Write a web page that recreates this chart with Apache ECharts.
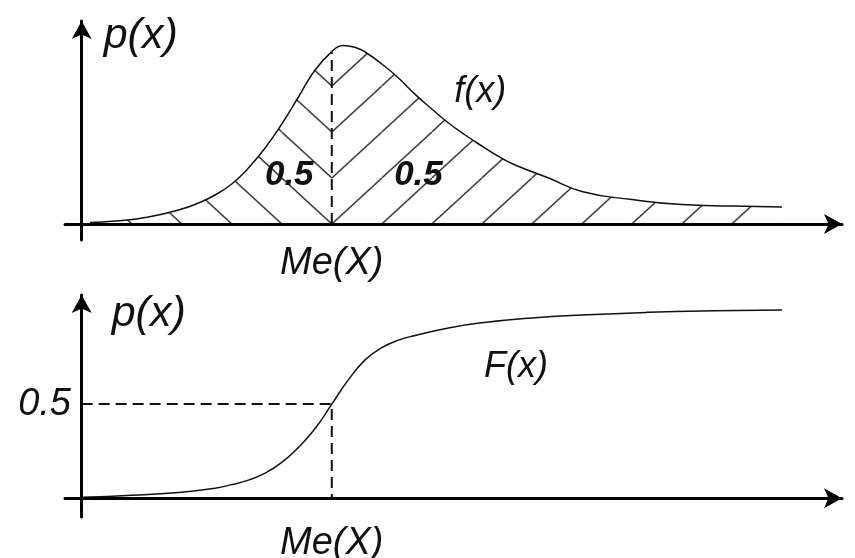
<!DOCTYPE html>
<html>
<head>
<meta charset="utf-8">
<title>Медиана: f(x) и F(x)</title>
<script src="https://cdn.jsdelivr.net/npm/echarts@6/dist/echarts.min.js"></script>
<style>
  html, body { margin: 0; padding: 0; background: #fff; }
  #chart { width: 855px; height: 558px; }
</style>
</head>
<body>
<div id="chart"></div>
<script>
// Median of the distribution
const median = 15;

// Density curve f(x)
const densityX = [0.5, 2, 4, 6, 7, 8, 9, 10, 11, 12, 13, 14, 15, 15.7, 16.5, 17, 18, 19, 20, 21, 22, 23, 24, 25, 26, 28, 30, 33, 36, 39, 42];
const densityY = [0.008, 0.015, 0.035, 0.075, 0.105, 0.145, 0.2, 0.28, 0.38, 0.5, 0.635, 0.77, 0.862, 0.893, 0.88, 0.86, 0.8, 0.73, 0.648, 0.575, 0.505, 0.445, 0.39, 0.338, 0.295, 0.23, 0.163, 0.122, 0.097, 0.09, 0.085];

// Distribution function F(x)
const cdfX = [0.1, 3, 6, 8, 9, 10, 11, 12, 13, 14, 15, 16, 17, 18, 19, 20, 22, 24, 27, 30, 34, 38, 42];
const cdfY = [0.005, 0.016, 0.032, 0.053, 0.072, 0.096, 0.133, 0.19, 0.27, 0.37, 0.5, 0.63, 0.735, 0.8, 0.84, 0.865, 0.905, 0.932, 0.958, 0.974, 0.988, 0.996, 1.0];

// Text
const yName = 'p(x)';
const medianLabel = 'Me(X)';
const halfLabel = '0.5';
const densityName = 'f(x)';
const cdfName = 'F(x)';
const halfLevel = 0.5;

const FONT = "'Liberation Sans', Arial, sans-serif";
const INK = '#111';

const pairs = (xs, ys) => xs.map((x, i) => [x, ys[i]]);
const densityPts = pairs(densityX, densityY);
const leftPart = densityPts.filter(p => p[0] <= median);
const rightPart = densityPts.filter(p => p[0] >= median);
const densityAtMedian = densityY[densityX.indexOf(median)];

// Hatch tile: '\' or '/' diagonal strokes, repeated seamlessly
const TILE_W = 50, TILE_H = 46;
function hatchTile(back) {
  const c = document.createElement('canvas');
  c.width = TILE_W; c.height = TILE_H;
  const g = c.getContext('2d');
  g.strokeStyle = '#222';
  g.lineWidth = 1.3;
  for (let k = -1; k <= 1; k++) {
    g.beginPath();
    if (back) { g.moveTo(k * TILE_W, 0); g.lineTo(k * TILE_W + TILE_W, TILE_H); }
    else { g.moveTo(k * TILE_W, TILE_H); g.lineTo(k * TILE_W + TILE_W, 0); }
    g.stroke();
  }
  return c;
}
const tileBack = hatchTile(true);
const tileFwd = hatchTile(false);

const axisLine = {
  onZero: true,
  symbol: ['none', 'arrow'],
  symbolSize: [15, 18],
  lineStyle: { color: '#000', width: 3 }
};
const labelStyle = { fontFamily: FONT, fontStyle: 'italic', fontSize: 38, color: INK };
const nameStyle = { fontFamily: FONT, fontStyle: 'italic', fontSize: 43, color: INK, align: 'left', verticalAlign: 'middle' };

function xAxisCfg(gridIndex, margin) {
  return {
    type: 'value', gridIndex, min: -1, max: 45.6,
    axisLine, axisTick: { show: false }, splitLine: { show: false },
    axisLabel: Object.assign({ customValues: [median], formatter: () => medianLabel, margin }, labelStyle),
    z: 5
  };
}

const curveSmooth = { smooth: 0.5, showSymbol: false };

const chart = echarts.init(document.getElementById('chart'), null, { renderer: 'canvas' });

const option = {
  animation: false,
  backgroundColor: '#fff',
  grid: [
    { left: 65, right: 13, top: 21, bottom: 318, containLabel: false, outerBoundsMode: 'none' },
    { left: 65, right: 13, top: 295, bottom: 41, containLabel: false, outerBoundsMode: 'none' }
  ],
  xAxis: [xAxisCfg(0, 4), xAxisCfg(1, 7)],
  yAxis: [
    {
      type: 'value', gridIndex: 0, min: -0.08, max: 1.015,
      axisLine, axisTick: { show: false }, splitLine: { show: false },
      axisLabel: { show: false },
      name: yName, nameLocation: 'end', nameGap: -15,
      nameTextStyle: Object.assign({ padding: [0, 0, 0, 22] }, nameStyle),
      z: 5
    },
    {
      type: 'value', gridIndex: 1, min: -0.1, max: 1.08,
      axisLine, axisTick: { show: false }, splitLine: { show: false },
      axisLabel: Object.assign({ customValues: [halfLevel], formatter: () => halfLabel, margin: -6 }, labelStyle),
      name: yName, nameLocation: 'end', nameGap: -19,
      nameTextStyle: Object.assign({ padding: [0, 0, 0, 30] }, nameStyle),
      z: 5
    }
  ],
  series: [
    Object.assign({
      id: 'densityLeft', type: 'line', xAxisIndex: 0, yAxisIndex: 0,
      data: leftPart,
      lineStyle: { color: INK, width: 1.5 },
      areaStyle: { opacity: 1, color: 'transparent' },
      markPoint: {
        symbolSize: 0,
        label: { show: true, position: 'inside', fontFamily: FONT, fontStyle: 'italic', fontWeight: 'bold', fontSize: 35, color: INK },
        data: [{ coord: [12.45, 0.245], value: halfLabel }]
      }
    }, curveSmooth),
    Object.assign({
      id: 'densityRight', type: 'line', xAxisIndex: 0, yAxisIndex: 0,
      data: rightPart,
      lineStyle: { color: INK, width: 1.5 },
      areaStyle: { opacity: 1, color: 'transparent' },
      markPoint: {
        symbolSize: 0,
        label: { show: true, position: 'inside', fontFamily: FONT, fontStyle: 'italic', fontSize: 35, color: INK },
        data: [
          { coord: [20.2, 0.245], value: halfLabel, label: { fontWeight: 'bold' } },
          { coord: [23.9, 0.66], value: densityName, label: { fontSize: 36 } }
        ]
      }
    }, curveSmooth),
    {
      id: 'medianTop', type: 'line', xAxisIndex: 0, yAxisIndex: 0,
      data: [[median, 0], [median, densityAtMedian]], showSymbol: false,
      lineStyle: { color: INK, width: 2, type: [11, 6] }, z: 3
    },
    Object.assign({
      id: 'cdf', type: 'line', xAxisIndex: 1, yAxisIndex: 1,
      data: pairs(cdfX, cdfY),
      lineStyle: { color: INK, width: 1.5 },
      markPoint: {
        symbolSize: 0,
        label: { show: true, position: 'inside', fontFamily: FONT, fontStyle: 'italic', fontSize: 36, color: INK },
        data: [{ coord: [26.05, 0.7], value: cdfName }]
      }
    }, curveSmooth),
    {
      id: 'medianBottom', type: 'line', xAxisIndex: 1, yAxisIndex: 1,
      data: [[0, halfLevel], [median, halfLevel], [median, 0]], showSymbol: false,
      lineStyle: { color: INK, width: 2, type: [11, 6] }, z: 3
    }
  ]
};

chart.setOption(option);

// Anchor both hatch patterns at the median's foot so the strokes meet in V shapes on the median line
const foot = chart.convertToPixel({ gridIndex: 0 }, [median, 0]);
chart.setOption({
  series: [
    { id: 'densityLeft', areaStyle: { opacity: 1, color: { image: tileBack, repeat: 'repeat', x: foot[0], y: foot[1] } } },
    { id: 'densityRight', areaStyle: { opacity: 1, color: { image: tileFwd, repeat: 'repeat', x: foot[0], y: foot[1] } } }
  ]
});
</script>
</body>
</html>
